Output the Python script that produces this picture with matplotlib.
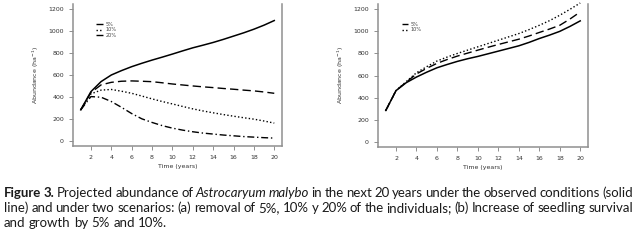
import matplotlib.pyplot as plt
import numpy as np

# years
years = np.arange(1, 21)

# panel (a): observed and removal scenarios
obs_a = [282, 448, 540, 600, 640, 676, 707, 736, 763, 791, 820, 848, 872, 897, 925, 955, 985, 1018, 1055, 1097]
rem_5 = [282, 440, 510, 533, 543, 546, 543, 539, 529, 518, 509, 500, 492, 485, 477, 470, 462, 455, 445, 433]
rem_10 = [282, 428, 462, 468, 452, 433, 408, 382, 358, 336, 313, 291, 272, 255, 239, 224, 210, 197, 180, 161]
rem_20 = [282, 403, 397, 358, 305, 248, 200, 167, 138, 115, 97, 82, 70, 61, 52, 45, 38, 33, 28, 24]

# panel (b): observed and seedling scenarios
obs_b = [283, 463, 535, 586, 630, 670, 700, 728, 752, 773, 797, 821, 845, 869, 900, 935, 966, 1000, 1045, 1095]
inc_5 = [283, 463, 540, 614, 665, 710, 745, 776, 803, 830, 856, 881, 905, 929, 958, 990, 1021, 1055, 1112, 1176]
inc_10 = [283, 463, 545, 625, 680, 731, 767, 800, 830, 860, 890, 920, 950, 980, 1016, 1055, 1097, 1146, 1200, 1257]

GRAY = '#8f8f8f'

fig = plt.figure(figsize=(6.36, 2.41), dpi=100)
W, H = 636, 241


def add_ax(x0, y0, x1, y1):
    return fig.add_axes([x0 / W, 1 - y1 / H, (x1 - x0) / W, (y1 - y0) / H])


def style_ax(ax):
    ax.set_xlim(0.24, 20.76)
    ax.set_ylim(-48, 1248)
    ax.spines['top'].set_visible(False)
    for s in ['left', 'bottom', 'right']:
        ax.spines[s].set_color(GRAY)
        ax.spines[s].set_linewidth(1.1)
    ax.set_xticks(np.arange(2, 21, 2))
    ax.set_yticks(np.arange(0, 1201, 200))
    ax.tick_params(length=3, width=0.7, color=GRAY, labelsize=4.5,
                   labelcolor='#333333', pad=3.5)
    ax.set_xlabel('Time (years)', fontsize=4.5, color='#333333', labelpad=3)
    ax.set_ylabel('Abundance (ha$^{-1}$)', fontsize=4.5, color='#333333', labelpad=5)


leg_kw = dict(loc='upper left', bbox_to_anchor=(0.10, 0.89), frameon=False, fontsize=3.6,
              handlelength=1.3, labelspacing=0.05, borderpad=0, handletextpad=0.5,
              labelcolor='#444444')

# (a)
ax1 = add_ax(73, 4, 282, 146)
style_ax(ax1)
ax1.plot(years, obs_a, color='black', lw=1.1, clip_on=False)
ax1.plot(years, rem_5, color='black', lw=1.0, ls=(0, (6, 3)), label='5%', clip_on=False)
ax1.plot(years, rem_10, color='black', lw=1.0, ls=(0, (1, 1.6)), label='10%', clip_on=False)
ax1.plot(years, rem_20, color='black', lw=1.0, ls=(0, (5, 2, 1, 2)), label='20%', clip_on=False)
ax1.legend(**leg_kw)

# (b)
ax2 = add_ax(378, 4, 588, 147)
style_ax(ax2)
ax2.plot(years, obs_b, color='black', lw=1.1, clip_on=False)
ax2.plot(years, inc_5, color='black', lw=1.0, ls=(0, (6, 3)), label='5%', clip_on=False)
ax2.plot(years, inc_10, color='black', lw=1.0, ls=(0, (1, 1.6)), label='10%', clip_on=False)
ax2.legend(**leg_kw)

# caption, justified word by word
caption = [
    [("Figure 3.", 'bold'), ("Projected abundance of", 'normal'), ("Astrocaryum malybo", 'italic'),
     ("in the next 20 years under the observed conditions (solid", 'normal')],
    [("line) and under two scenarios: (a) removal of 5%, 10% y 20% of the individuals; (b) Increase of seedling survival", 'normal')],
    [("and growth by 5% and 10%.", 'normal')],
]
justify = [True, True, False]
baselines = [197, 212, 227]
x_left, x_right = 4, 633
fs = 9.5
family = 'Lato'

fig.canvas.draw()
renderer = fig.canvas.get_renderer()


def make_text(word, style, x, y):
    kw = dict(fontsize=fs, family=family, color='#1a1a1a', va='baseline', ha='left')
    if style == 'bold':
        kw['fontweight'] = 'bold'
    if style == 'italic':
        kw['fontstyle'] = 'italic'
    return fig.text(x / W, 1 - y / H, word, **kw)


t_two = make_text('n n', 'normal', 100, 100)
t_one = make_text('nn', 'normal', 100, 100)
space_w = t_two.get_window_extent(renderer).width - t_one.get_window_extent(renderer).width
t_two.remove()
t_one.remove()

for line, just, yb in zip(caption, justify, baselines):
    words = []
    for seg, st in line:
        for w in seg.split(' '):
            words.append((w, st))
    texts = [make_text(w, st, 0, yb) for w, st in words]
    widths = [t.get_window_extent(renderer).width for t in texts]
    if just:
        gap = (x_right - x_left - sum(widths)) / (len(words) - 1)
    else:
        gap = space_w
    x = x_left
    for t, w in zip(texts, widths):
        t.set_x(x / W)
        x += w + gap

fig.savefig('out.png', dpi=100)
